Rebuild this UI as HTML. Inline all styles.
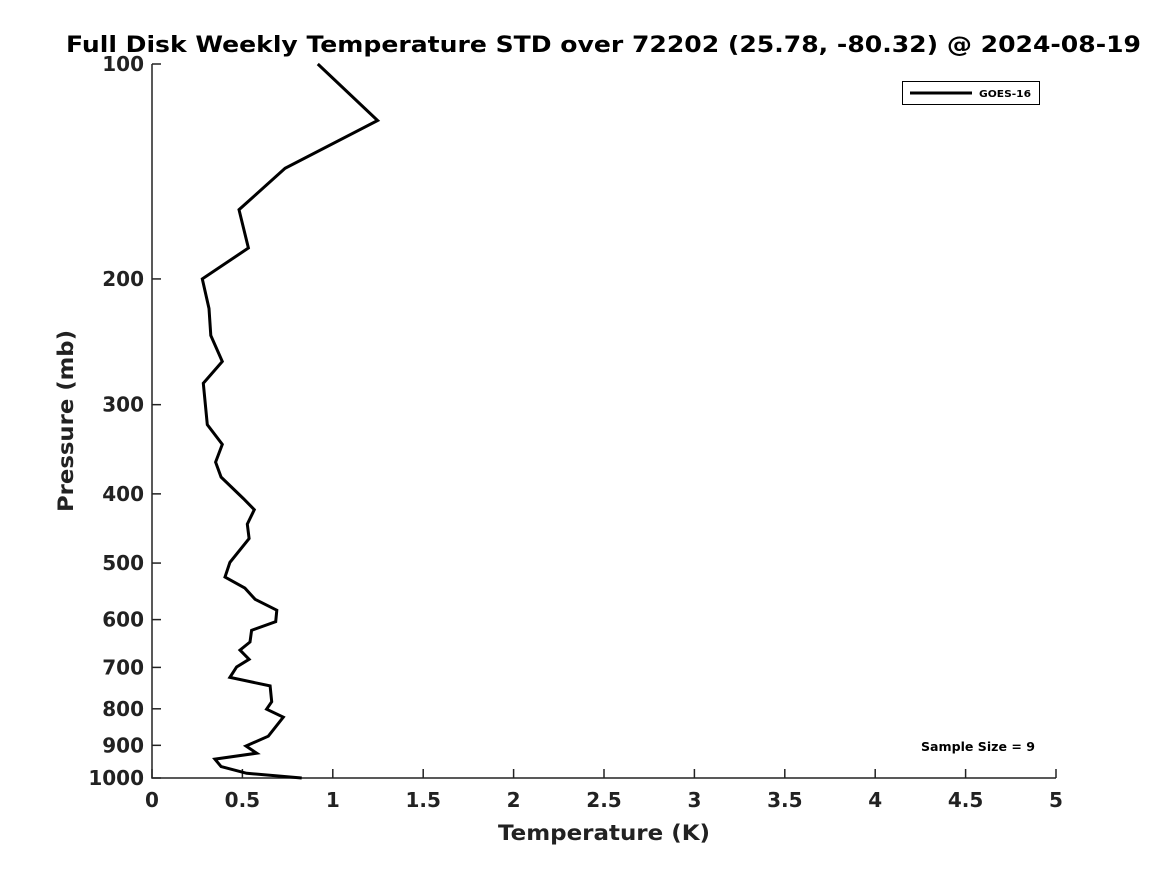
<!DOCTYPE html>
<html><head><meta charset="utf-8"><style>
body{margin:0;background:#fff;}
svg text{font-family:"DejaVu Sans","Liberation Sans",sans-serif;font-weight:bold;fill:#222;}
</style></head><body>
<svg id="chart" width="1167" height="875" xmlns="http://www.w3.org/2000/svg">
<rect width="1167" height="875" fill="#fff"/>
<text x="66" y="52" font-size="22" textLength="1075" lengthAdjust="spacingAndGlyphs" style="fill:#000">Full Disk Weekly Temperature STD over 72202 (25.78, -80.32) @ 2024-08-19</text>
<g id="axes"></g>
<polyline id="series-line" fill="none" stroke="#000" stroke-width="3" stroke-linejoin="miter"/>
<g>
<rect x="902.5" y="81.5" width="137" height="23" fill="#fff" stroke="#000" stroke-width="1"/>
<line x1="910" y1="93" x2="972" y2="93" stroke="#000" stroke-width="3"/>
<text x="979" y="97" font-size="10" textLength="52" lengthAdjust="spacingAndGlyphs" style="fill:#000">GOES-16</text>
</g>
<text x="921" y="751" font-size="12" textLength="114" lengthAdjust="spacingAndGlyphs" style="fill:#000">Sample Size = 9</text>
<text x="498" y="840" font-size="21" textLength="212" lengthAdjust="spacingAndGlyphs">Temperature (K)</text>
<text transform="translate(73,512) rotate(-90)" font-size="21" textLength="182" lengthAdjust="spacingAndGlyphs">Pressure (mb)</text>
</svg>
<script>
const temps=[0.917,1.248,0.736,0.481,0.533,0.278,0.315,0.325,0.389,0.284,0.306,0.389,0.352,0.382,0.505,0.566,0.527,0.537,0.431,0.404,0.514,0.570,0.690,0.684,0.551,0.542,0.487,0.537,0.468,0.431,0.653,0.662,0.634,0.726,0.643,0.520,0.579,0.348,0.382,0.524,0.828];
const pressures=[100,120,140,160,181,200,220,240,261,280,320,341,361,379,406,421,441,462,499,523,542,562,582,604,621,645,662,682,699,723,743,782,801,822,874,902,923,941,964,985,1000];
const xTicks=[0,0.5,1,1.5,2,2.5,3,3.5,4,4.5,5];
const yTicks=[100,200,300,400,500,600,700,800,900,1000];
const X0=152,X1=1056,Y0=64,Y1=778;
function xs(v){return X0+(v-0)/5*(X1-X0);}
function ys(p){return Y0+Math.log10(p/100)*(Y1-Y0);}
const NS="http://www.w3.org/2000/svg";
const axes=document.getElementById('axes');
function mk(t,a){const e=document.createElementNS(NS,t);for(const k in a)e.setAttribute(k,a[k]);axes.appendChild(e);return e;}
let ax=mk('path',{d:`M${X0},${Y0} V${Y1} H${X1}`,fill:'none',stroke:'#222','stroke-width':1.5});


xTicks.forEach(v=>{const x=xs(v);
 const l=mk('line',{x1:x,y1:Y1,x2:x,y2:Y1-9,stroke:'#222','stroke-width':1.5});
 
 
 const t=mk('text',{x:x,y:Y1+29,'font-size':20,'text-anchor':'middle'});t.textContent=String(v);
 
 
});
yTicks.forEach(v=>{const y=ys(v);
 const l=mk('line',{x1:X0,y1:y,x2:X0+9,y2:y,stroke:'#222','stroke-width':1.5});
 
 
 const t=mk('text',{x:X0-8,y:y+7,'font-size':20,'text-anchor':'end'});t.textContent=String(v);
 
 
});
document.getElementById('series-line').setAttribute('points',temps.map((t,i)=>xs(t).toFixed(1)+','+ys(pressures[i]).toFixed(1)).join(' '));
</script>
</body></html>
